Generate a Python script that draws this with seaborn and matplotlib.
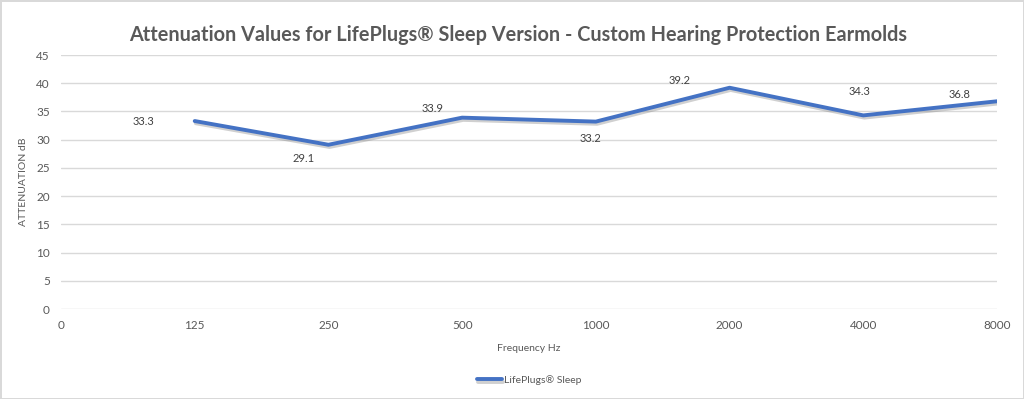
import numpy as np
import pandas as pd
import seaborn as sns
import matplotlib.pyplot as plt
import matplotlib.patheffects as pe

# data
tick_labels = ["0", "125", "250", "500", "1000", "2000", "4000", "8000"]
freqs = ["125", "250", "500", "1000", "2000", "4000", "8000"]
attenuation = [33.3, 29.1, 33.9, 33.2, 39.2, 34.3, 36.8]

# where Excel put each data label, in pixels relative to the point
label_offsets = [(-51, 0), (-25, -14), (-30, 9), (-5, -17), (-50, 7), (-4, 24), (-37, 7)]

df = pd.DataFrame({"freq": freqs, "att": attenuation})
df["pos"] = [tick_labels.index(f) for f in df["freq"]]

sns.set_theme(style="white")
plt.rcParams["font.family"] = ["Lato", "DejaVu Sans"]

grey = "#595959"
blue = "#4472C4"

fig = plt.figure(figsize=(10.24, 3.99), dpi=100)
fig.patch.set_edgecolor("#D9D9D9")
fig.patch.set_linewidth(2)
ax = fig.add_axes([61 / 1024, 1 - 309 / 399, (997 - 61) / 1024, (309 - 55) / 399])

sns.lineplot(data=df, x="pos", y="att", ax=ax, color=blue, linewidth=2.8,
             label="LifePlugs® Sleep", solid_capstyle="round",
             path_effects=[pe.SimpleLineShadow(offset=(0.8, -1.6), shadow_color="#8a8a8a", alpha=0.4),
                           pe.Normal()])

for x, y, (dx, dy) in zip(df["pos"], df["att"], label_offsets):
    ax.annotate(f"{y:.1f}", (x, y), xytext=(dx, dy), textcoords="offset pixels",
                ha="center", va="center", fontsize=8, color="#404040")

ax.set_xlim(0, 7)
ax.set_ylim(0, 45)
ax.set_xticks(range(len(tick_labels)))
ax.set_xticklabels(tick_labels)
ax.set_yticks(np.arange(0, 46, 5))
ax.tick_params(axis="both", length=0, labelsize=8.5, colors=grey, pad=8)
ax.grid(axis="y", color="#D9D9D9", linewidth=1)
for s in ax.spines.values():
    s.set_visible(False)

ax.set_xlabel("Frequency Hz", fontsize=7.5, color=grey, labelpad=9)
ax.set_ylabel("ATTENUATION dB", fontsize=7.5, color=grey, labelpad=6)
fig.text(518 / 1024, 1 - 35 / 399,
         "Attenuation Values for LifePlugs® Sleep Version - Custom Hearing Protection Earmolds",
         ha="center", va="center", fontsize=14.3, fontweight="bold", color=grey)

ax.legend(loc="center", bbox_to_anchor=(0.5, -0.28), frameon=False, fontsize=7.5,
          labelcolor=grey, handlelength=2.4, handletextpad=0.2)

fig.savefig("out.png", dpi=100, facecolor="white", edgecolor=fig.get_edgecolor())
